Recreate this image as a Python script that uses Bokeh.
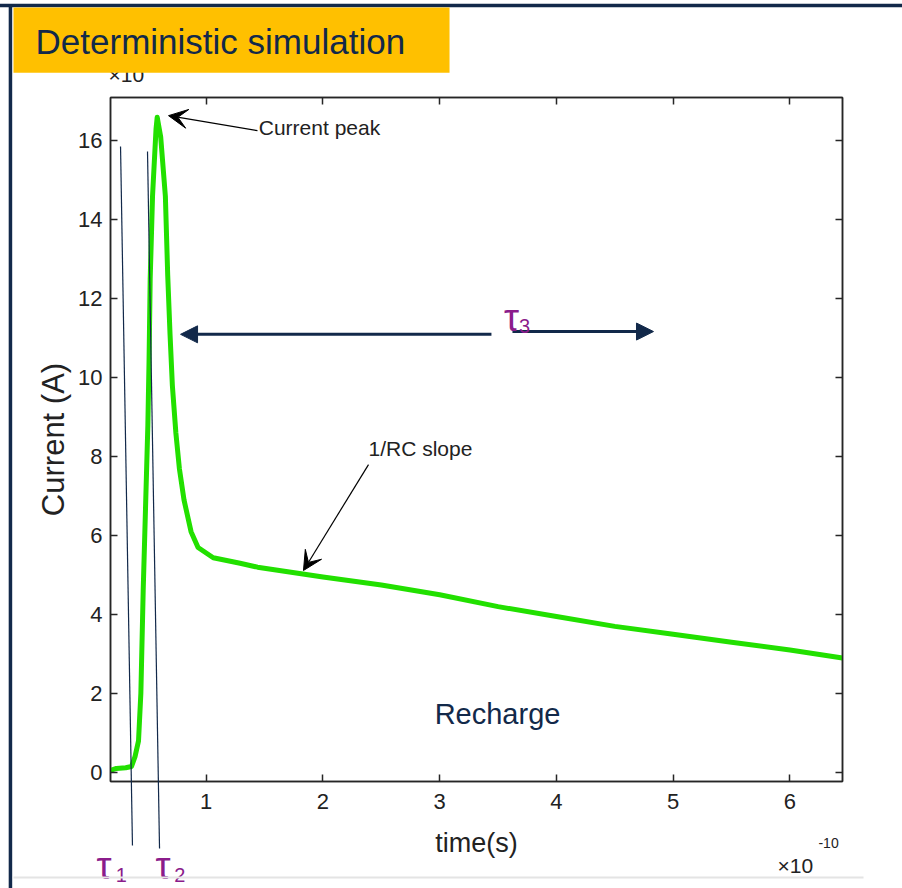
from bokeh.plotting import figure
from bokeh.models import (Range1d, FixedTicker, LinearAxis, Label, Arrow,
                          NormalHead, VeeHead)
from bokeh.core.properties import value
from bokeh.embed import file_html
from bokeh.resources import INLINE

# ---------------- data (time in units of 1e-10 s, current in A) -------------
time_e10 = [0.18, 0.23, 0.31, 0.36, 0.39, 0.42, 0.44, 0.46, 0.50, 0.51, 0.52,
            0.54, 0.57, 0.58, 0.61, 0.65, 0.67, 0.69, 0.71, 0.74, 0.77, 0.81,
            0.87, 0.93, 1.06, 1.29, 1.44, 2.0, 2.5, 3.0, 3.5, 4.0, 4.5, 5.0,
            5.5, 6.0, 6.45]
current = [0.05, 0.10, 0.12, 0.15, 0.40, 0.80, 2.0, 4.6, 8.8, 10.4, 12.5,
           14.6, 16.3, 16.6, 16.1, 14.6, 12.6, 11.1, 9.8, 8.6, 7.7, 6.9,
           6.1, 5.7, 5.44, 5.3, 5.2, 4.95, 4.75, 4.5, 4.2, 3.95, 3.7, 3.5,
           3.3, 3.1, 2.9]
x_ticks = [1, 2, 3, 4, 5, 6]
y_ticks = [0, 2, 4, 6, 8, 10, 12, 14, 16]

NAVY = "#12294A"
PURPLE = "#8B1C8B"
GREEN = "#22E000"
AXC = "#262626"
SANS = "Liberation Sans"

p = figure(width=902, height=888, output_backend="svg", toolbar_location=None,
           x_range=Range1d(0.18, 6.45), y_range=Range1d(-0.23, 17.1),
           min_border_left=110, min_border_right=60, min_border_top=97,
           min_border_bottom=107)
p.xgrid.visible = False
p.ygrid.visible = False
p.outline_line_color = AXC
p.outline_line_width = 1.5
p.background_fill_color = "white"
p.border_fill_color = "white"

for ax, ticks in ((p.xaxis[0], x_ticks), (p.yaxis[0], y_ticks)):
    ax.ticker = FixedTicker(ticks=ticks)
    ax.major_tick_in = 7
    ax.major_tick_out = 0
    ax.minor_tick_in = 0
    ax.minor_tick_out = 0
    ax.axis_line_color = AXC
    ax.axis_line_width = 1.5
    ax.major_tick_line_color = AXC
    ax.major_tick_line_width = 1.5
    ax.major_label_text_font = SANS
    ax.major_label_text_font_size = "22px"
    ax.major_label_text_color = "#222222"
    ax.axis_label_text_color = "#222222"
    ax.axis_label_text_font_style = "normal"

p.xaxis.axis_label = "time(s)"
p.xaxis.axis_label_text_font = SANS
p.xaxis.axis_label_text_font_size = "27px"
p.xaxis.major_label_standoff = 12
p.xaxis.axis_label_standoff = 16
p.yaxis.axis_label = "Current (A)"
p.yaxis.axis_label_text_font = SANS
p.yaxis.axis_label_text_font_size = "31px"
p.yaxis.major_label_standoff = 8
p.yaxis.axis_label_standoff = 4

# mirrored box axes (ticks only)
for loc, ticks in (("above", x_ticks), ("right", y_ticks)):
    a = LinearAxis(ticker=FixedTicker(ticks=ticks), major_tick_in=7,
                   major_tick_out=0, minor_tick_in=0, minor_tick_out=0,
                   axis_line_color=AXC, axis_line_width=1.5,
                   major_tick_line_color=AXC, major_tick_line_width=1.5,
                   major_label_text_font_size="0px")
    p.add_layout(a, loc)

# the curve
p.line(time_e10, current, line_color=GREEN, line_width=5, line_join="round")


# ---------------- annotations inside the frame ----------------
def label(x, y, text, size, color="#222222", font=SANS, **kw):
    p.add_layout(Label(x=x, y=y, text=text, text_font=font,
                       text_font_size=size, text_color=color,
                       text_baseline="middle", **kw))


def arrow(x0, y0, x1, y1, color, width, head=None):
    p.add_layout(Arrow(x_start=x0, y_start=y0, x_end=x1, y_end=y1,
                       line_color=color, line_width=width, end=head))


arrow(1.439, 16.26, 0.677, 16.64, "black", 1.2,
      head=VeeHead(size=19, fill_color="black", line_color="black"))
label(1.45, 16.34, "Current peak", "21px")

arrow(2.39, 7.80, 1.833, 5.116, "black", 1.2,
      head=VeeHead(size=19, fill_color="black", line_color="black"))
label(2.39, 8.21, "1/RC slope", "21px")

arrow(3.443, 11.10, 0.780, 11.10, NAVY, 3,
      head=NormalHead(size=17, fill_color=NAVY, line_color=NAVY))
arrow(3.623, 11.17, 4.831, 11.17, NAVY, 3,
      head=NormalHead(size=17, fill_color=NAVY, line_color=NAVY))
label(3.55, 11.52, "τ", "38px", color=PURPLE)
label(3.68, 11.30, "3", "20px", color=PURPLE)

label(3.495, 1.49, "Recharge", "29px", color=NAVY, text_align="center")


# ---------------- items outside the frame (overlay level, unclipped) -------
def oseg(x0, y0, x1, y1, color, width):
    p.segment([x0], [y0], [x1], [y1], line_color=color, line_width=width,
              level="overlay")


def otext(x, y, text, size, color="#222222", font=SANS, **kw):
    p.text([x], [y], text=[text], text_font=value(font),
           text_font_size=size, text_color=color, level="overlay",
           text_baseline="middle", **kw)


# tau1 / tau2 guide lines (extend below the axes)
oseg(0.266, 15.86, 0.368, -1.85, NAVY, 1.2)
oseg(0.497, 15.73, 0.600, -1.93, NAVY, 1.2)
otext(0.06, -2.36, "τ", "38px", color=PURPLE)
otext(0.225, -2.61, "1", "20px", color=PURPLE)
otext(0.565, -2.36, "τ", "38px", color=PURPLE)
otext(0.725, -2.61, "2", "20px", color=PURPLE)

# exponent labels
otext(5.893, -2.358, "×10", "21px")
otext(6.244, -1.80, "-10", "14px")
otext(0.163, 17.68, "×10", "21px")

# slide chrome
oseg(-0.77, 19.43, 6.97, 19.43, NAVY, 3.5)
oseg(-0.677, 19.45, -0.677, -2.95, NAVY, 3.5)
oseg(-0.651, -2.662, 6.63, -2.662, "#E4E4E4", 2)

# title box (drawn over the top exponent, as in the slide)
p.quad(left=[-0.651], right=[3.084], top=[19.38], bottom=[17.73],
       fill_color="#FFC000", line_color=None, level="overlay")
otext(-0.462, 18.53, "Deterministic simulation", "35px", color=NAVY)

open("out.html", "w").write(file_html(p, INLINE))
